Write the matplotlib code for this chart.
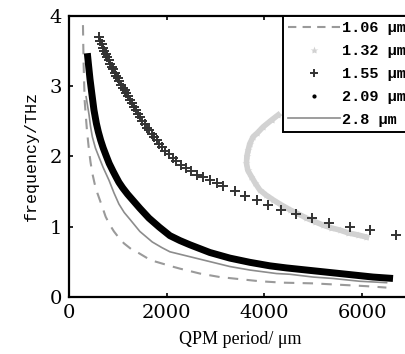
import matplotlib
matplotlib.use("Agg")
import matplotlib.pyplot as plt
from matplotlib.lines import Line2D

# 1.06 um pump, dashed
x_106 = [286, 293, 300, 310, 320, 341, 370, 409, 440, 477, 525, 579, 630, 681, 750, 830,
         920, 1020, 1125, 1270, 1432, 1600, 1772, 2113, 2270, 2679, 3088, 3497, 3906,
         4376, 4996, 5542, 6088, 6496]
f_106 = [3.87, 3.55, 3.30, 3.05, 2.80, 2.60, 2.35, 2.09, 1.92, 1.76, 1.61, 1.48, 1.38, 1.28,
         1.14, 1.03, 0.93, 0.84, 0.76, 0.68, 0.62, 0.55, 0.50, 0.43, 0.40, 0.33, 0.28, 0.25,
         0.22, 0.20, 0.19, 0.17, 0.15, 0.13]

# 1.32 um pump, light grey markers (C-shaped branch)
x_132 = [4281, 4150, 3974, 3850, 3769, 3700, 3667, 3640, 3633, 3660, 3735, 3810, 3906,
         4030, 4178, 4340, 4519, 4690, 4861, 5030, 5200, 5370, 5542, 5712, 5916, 6088]
f_132 = [2.59, 2.52, 2.42, 2.33, 2.28, 2.18, 2.09, 2.00, 1.90, 1.80, 1.71, 1.62, 1.52,
         1.45, 1.38, 1.31, 1.24, 1.18, 1.12, 1.07, 1.02, 0.98, 0.95, 0.91, 0.88, 0.85]

# 1.55 um pump, "+" markers
x_155 = [613, 640, 668, 696, 724, 752, 780, 810, 840, 870, 900, 932, 964, 996, 1030,
         1064, 1100, 1136, 1172, 1210, 1250, 1290, 1330, 1372, 1414, 1458, 1502, 1548,
         1594, 1640, 1690, 1740, 1795, 1850, 1910, 1975, 2045, 2120, 2200, 2290, 2390,
         2500, 2620, 2750, 2890, 3020, 3156, 3395, 3599, 3838, 4076, 4349, 4656, 4983,
         5323, 5746, 6155, 6687]
f_155 = [3.70, 3.65, 3.60, 3.55, 3.50, 3.46, 3.41, 3.37, 3.32, 3.28, 3.24, 3.19, 3.15,
         3.11, 3.07, 3.02, 2.98, 2.94, 2.90, 2.86, 2.81, 2.76, 2.71, 2.66, 2.61, 2.56,
         2.51, 2.46, 2.41, 2.37, 2.32, 2.28, 2.23, 2.18, 2.13, 2.08, 2.03, 1.98, 1.93,
         1.88, 1.83, 1.79, 1.74, 1.70, 1.66, 1.62, 1.58, 1.50, 1.44, 1.38, 1.31, 1.24,
         1.18, 1.12, 1.05, 0.99, 0.95, 0.88]

# 2.09 um pump, dense black dots
x_209 = [375, 400, 430, 470, 511, 560, 600, 648, 700, 760, 822, 900, 960, 1022, 1100,
         1200, 1300, 1450, 1636, 1850, 2065, 2270, 2474, 2883, 3292, 3701, 4110, 4452,
         4996, 5679, 6223, 6632]
f_209 = [3.47, 3.30, 3.10, 2.88, 2.66, 2.47, 2.35, 2.23, 2.12, 2.01, 1.90, 1.79, 1.71,
         1.63, 1.55, 1.46, 1.38, 1.26, 1.12, 0.99, 0.87, 0.80, 0.74, 0.63, 0.55, 0.49,
         0.44, 0.41, 0.37, 0.32, 0.28, 0.26]

# 2.8 um pump, thin grey line
x_28 = [350, 380, 409, 440, 477, 540, 613, 700, 818, 920, 1022, 1130, 1250, 1450, 1704,
        1900, 2065, 2474, 2883, 3292, 3701, 4247, 4519, 4996, 5400, 5951, 6500]
f_28 = [2.85, 2.72, 2.60, 2.43, 2.28, 2.12, 1.99, 1.84, 1.66, 1.48, 1.32, 1.20, 1.10, 0.93,
        0.78, 0.70, 0.64, 0.57, 0.50, 0.43, 0.38, 0.33, 0.32, 0.28, 0.26, 0.22, 0.20]

labels = ["1.06 μm", "1.32 μm", "1.55 μm", "2.09 μm", "2.8 μm"]
xticks = [0, 2000, 4000, 6000]
yticks = [0, 1, 2, 3, 4]

serif = ["DejaVu Serif"]
mono = ["Liberation Mono", "DejaVu Sans Mono"]

fig = plt.figure(figsize=(4.06, 3.54), dpi=100)
ax = fig.add_axes([69 / 406, 57.3 / 354, 342 / 406, 280.7 / 354])

ax.plot(x_106, f_106, color="#9a9a9a", lw=1.5, dashes=(5, 4))
ax.plot(x_28, f_28, color="#8c8c8c", lw=1.2)
ax.plot(x_132, f_132, color="#d2d2d2", lw=4, marker="*", ms=6, mec="none")
ax.plot(x_155, f_155, ls="none", color="#333333", marker="+", ms=7, mew=1.4)
ax.plot(x_209, f_209, color="black", lw=5, solid_capstyle="butt")

ax.set_xlim(0, 7000)
ax.set_ylim(0, 4)
ax.set_xticks(xticks)
ax.set_yticks(yticks)
ax.tick_params(direction="in", length=3, width=1.2, top=True, right=True,
               labelsize=14, pad=5)
for lab in ax.get_xticklabels() + ax.get_yticklabels():
    lab.set_family(serif)
for sp in ax.spines.values():
    sp.set_linewidth(1.6)

ax.set_xlabel("QPM period/ μm", family=["Liberation Serif"], fontsize=13, labelpad=7)
ax.set_ylabel("frequency/THz", family=mono, fontsize=12, labelpad=8)

handles = [
    Line2D([], [], color="#9a9a9a", lw=1.5, dashes=(4, 3)),
    Line2D([], [], ls="none", color="#d2d2d2", marker="*", ms=6, mec="none"),
    Line2D([], [], ls="none", color="#333333", marker="+", ms=6, mew=1.4),
    Line2D([], [], ls="none", color="black", marker=".", ms=4),
    Line2D([], [], color="#8c8c8c", lw=1.2),
]
leg = ax.legend(handles, labels, loc="upper right",
                prop={"family": mono, "size": 11, "weight": "bold"},
                handlelength=3.4, handletextpad=0.1, labelspacing=0.58,
                borderaxespad=0.0, borderpad=0.35, fancybox=False, framealpha=1)
leg.get_frame().set_edgecolor("black")
leg.get_frame().set_linewidth(1.4)

fig.savefig("out.png", dpi=100)
